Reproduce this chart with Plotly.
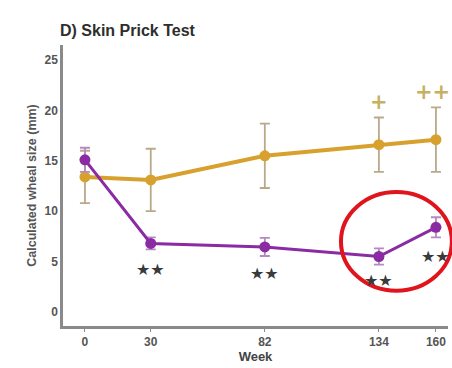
import plotly.graph_objects as go

# Study weeks and mean wheal sizes (mm) with error margins
weeks = [0, 30, 82, 134, 160]
placebo_mean = [13.4, 13.1, 15.5, 16.6, 17.1]
placebo_err = [2.6, 3.1, 3.2, 2.7, 3.2]
active_mean = [15.1, 6.8, 6.45, 5.5, 8.4]
active_err = [1.2, 0.6, 0.9, 0.8, 1.0]

# Significance markers
star_weeks = [30, 82, 134, 160]
star_y = [4.2, 3.8, 3.1, 5.5]
plus_weeks = [134, 160]
plus_labels = ["+", "++"]
plus_y = [20.8, 21.8]

y_ticks = [0, 5, 10, 15, 20, 25]

ORANGE = "#D8A12E"
PURPLE = "#8A2BA3"
ERR = "#B9A98A"
FONT = "Liberation Sans, Arial, sans-serif"

fig = go.Figure()

fig.add_trace(go.Scatter(
    x=weeks, y=placebo_mean, mode="lines+markers",
    line=dict(color=ORANGE, width=4),
    marker=dict(color=ORANGE, size=11),
    error_y=dict(type="data", array=placebo_err, color=ERR, thickness=1.8, width=5),
    showlegend=False,
))
fig.add_trace(go.Scatter(
    x=weeks, y=active_mean, mode="lines+markers",
    line=dict(color=PURPLE, width=3),
    marker=dict(color=PURPLE, size=11),
    error_y=dict(type="data", array=active_err, color="#B58AC0", thickness=1.8, width=5),
    showlegend=False,
))

for w, y in zip(star_weeks, star_y):
    fig.add_annotation(x=w, y=y, text="<b>★★</b>", showarrow=False,
                       font=dict(family="DejaVu Sans", size=16, color="#3a3a3a"))

for w, y, t in zip(plus_weeks, plus_y, plus_labels):
    fig.add_annotation(x=w, y=y, text="<b>" + t + "</b>", showarrow=False,
                       xshift=-3 if len(t) > 1 else 0,
                       font=dict(family="DejaVu Sans", size=21, color="#C7B064"))

# Highlight ring around the final two time points
fig.add_shape(type="circle", xref="paper", yref="y",
              x0=0.722, x1=1.01, y0=2.1, y1=11.9,
              line=dict(color="#E0141C", width=4), layer="above")

fig.update_layout(
    width=452, height=368,
    margin=dict(l=63, r=4, t=45, b=42),
    paper_bgcolor="white", plot_bgcolor="white",
    font=dict(family=FONT, color="#444"),
    title=dict(text="<b>D) Skin Prick Test</b>", x=60/452, xanchor="left",
               y=1 - 30/368, yanchor="middle",
               font=dict(family=FONT, size=16, color="#2e2e2e")),
)

fig.update_xaxes(
    range=[-10, 165.5], tickvals=weeks, ticktext=["<b>%d</b>" % w for w in weeks],
    showgrid=False, zeroline=False,
    showline=True, linecolor="#8a8a8a", linewidth=2.5,
    ticks="outside", ticklen=3, tickcolor="#8a8a8a",
    tickfont=dict(family=FONT, size=12, color="#555"),
    title=dict(text="<b>Week</b>", font=dict(family=FONT, size=13, color="#444"), standoff=1),
)
fig.update_yaxes(
    range=[-1.4, 26.5], tickvals=y_ticks, ticktext=["<b>%d</b>" % v for v in y_ticks],
    showgrid=False, zeroline=False,
    showline=True, linecolor="#8a8a8a", linewidth=2.5,
    ticks="", tickfont=dict(family=FONT, size=12, color="#555"),
    title=dict(text="<b>Calculated wheal size (mm)</b>",
               font=dict(family=FONT, size=12.5, color="#555"), standoff=6),
)

fig.write_html("out.html")
